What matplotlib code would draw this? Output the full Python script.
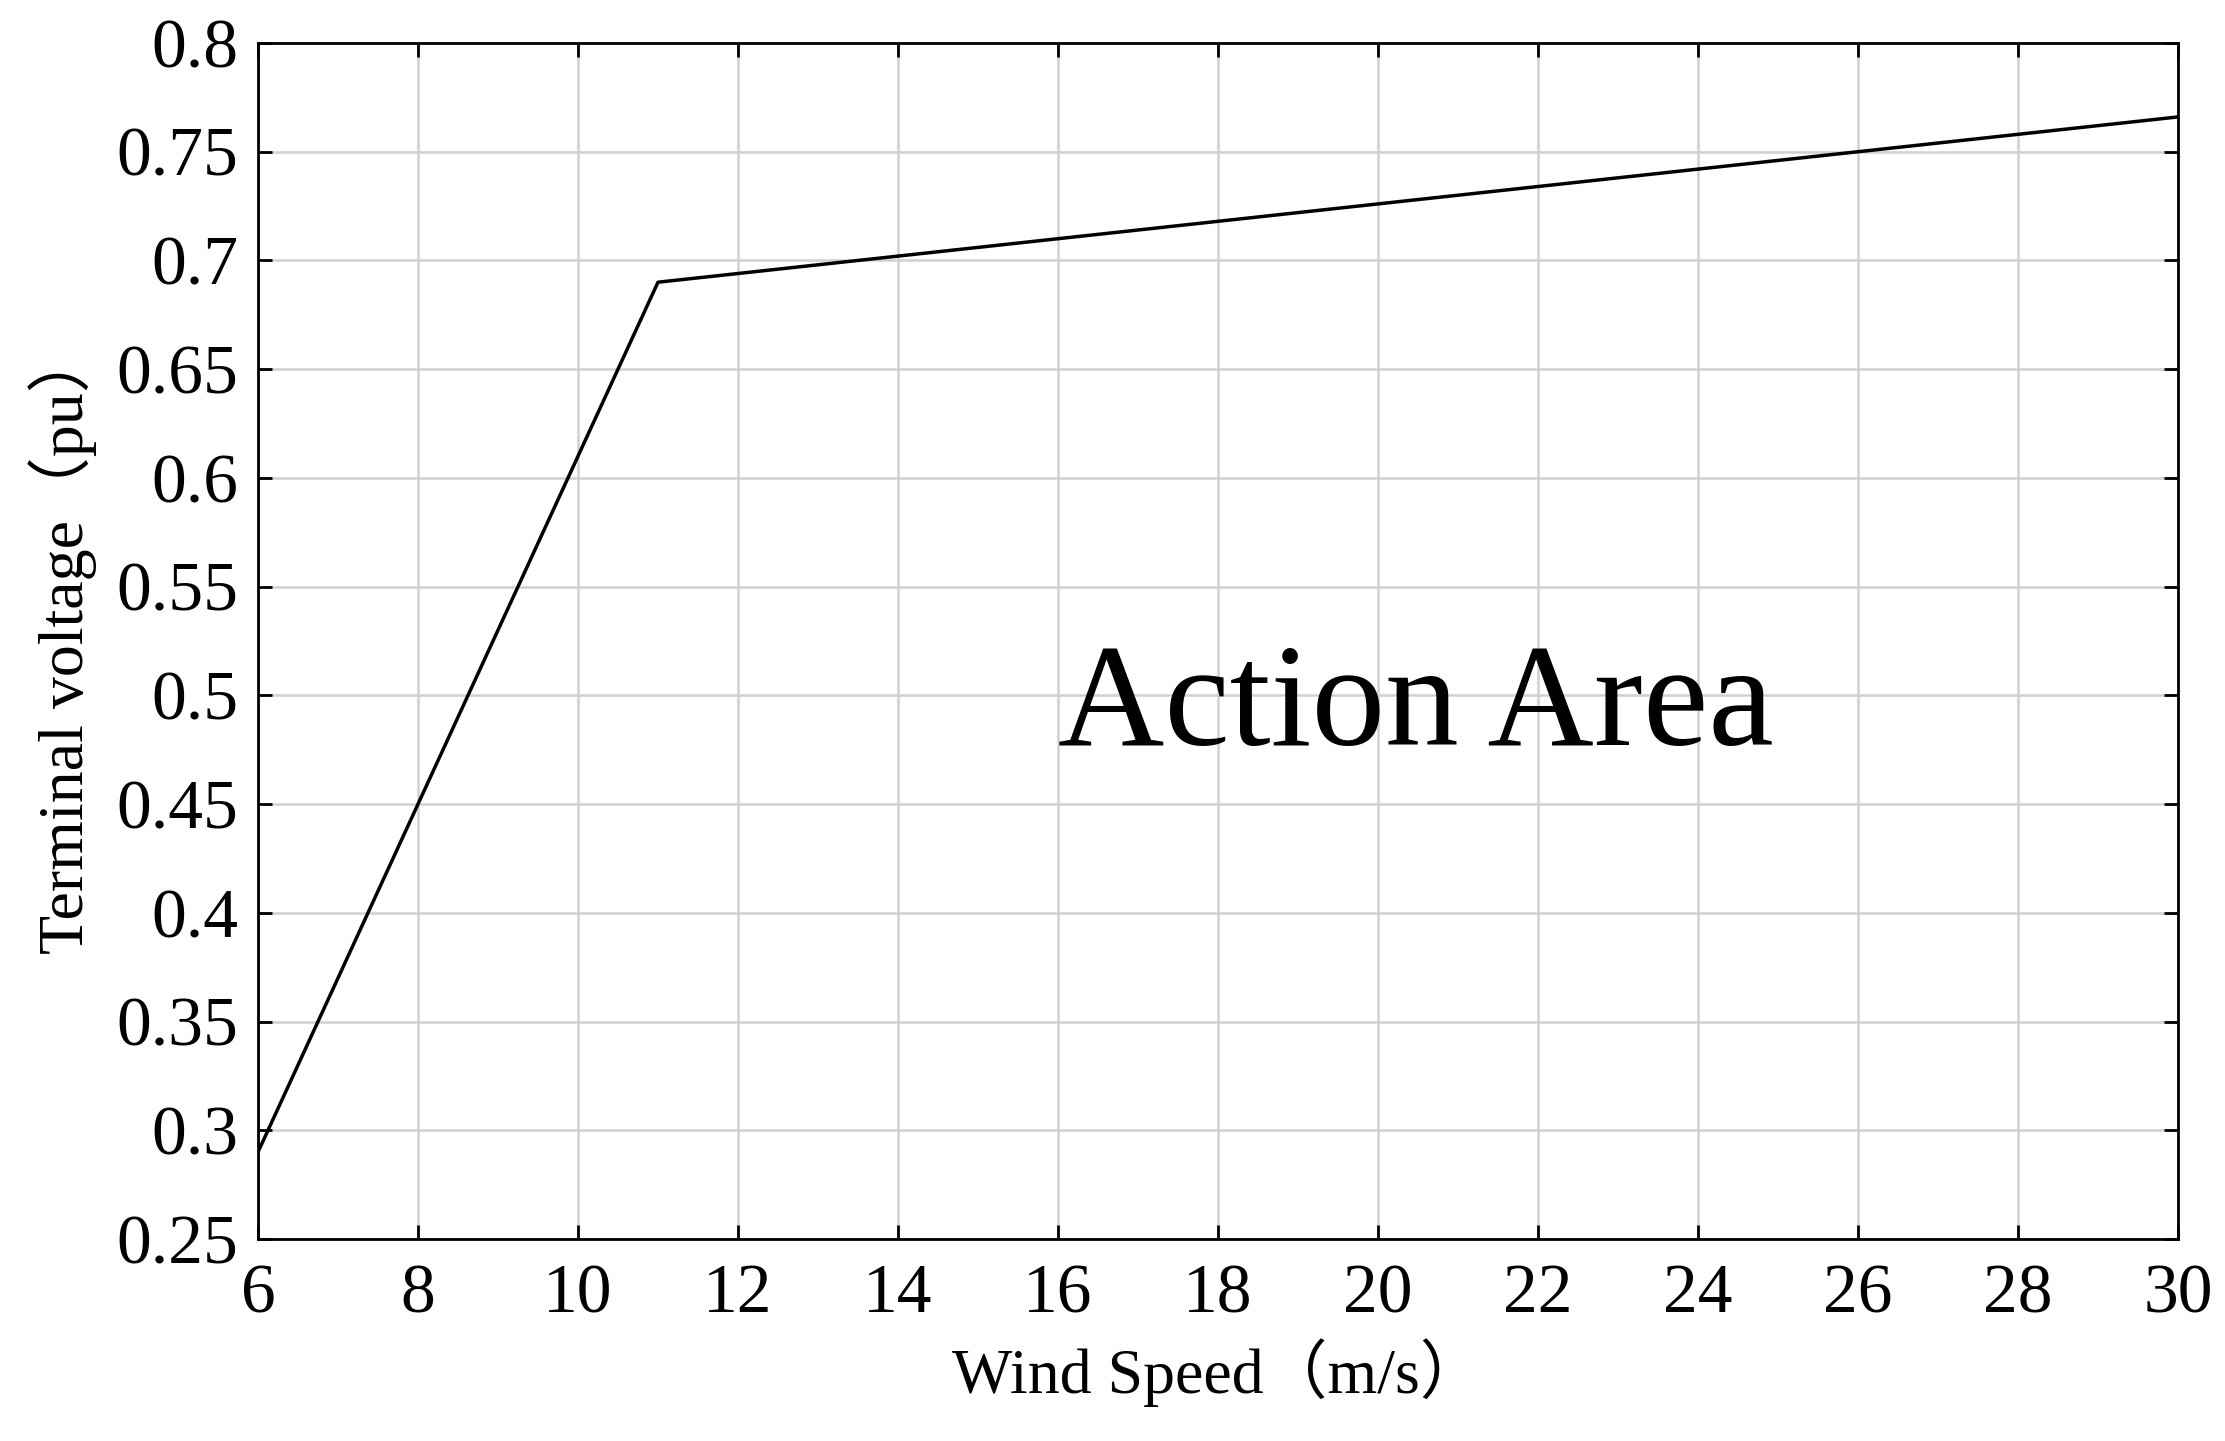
import matplotlib
matplotlib.use("Agg")
import matplotlib.pyplot as plt

wind_speed = [6, 11, 30]
voltage = [0.29, 0.69, 0.766]
xticks = list(range(6, 31, 2))
yticks = [0.25, 0.3, 0.35, 0.4, 0.45, 0.5, 0.55, 0.6, 0.65, 0.7, 0.75, 0.8]
ytick_labels = ["0.25", "0.3", "0.35", "0.4", "0.45", "0.5", "0.55", "0.6", "0.65", "0.7", "0.75", "0.8"]

fam = ["Liberation Serif", "Noto Sans CJK SC"]
plt.rcParams['font.family'] = fam
fig = plt.figure(figsize=(22.25, 14.41), dpi=100)
ax = fig.add_axes([258/2225, 1-1239/1441, (2178-258)/2225, (1239-43)/1441])
ax.plot(wind_speed, voltage, color="black", lw=2.5)
ax.set_xlim(6, 30)
ax.set_ylim(0.25, 0.8)
ax.set_xticks(xticks)
ax.set_yticks(yticks)
ax.set_yticklabels(ytick_labels)
ax.grid(True, color="#d0d0d0", lw=1.8)
ax.tick_params(direction="in", labelsize=50, length=10, width=2, top=True, right=True)
ax.tick_params(axis="x", pad=18)
ax.tick_params(axis="y", pad=14)
for s in ax.spines.values():
    s.set_linewidth(2)
ax.set_xlabel("Wind Speed（m/s）", fontsize=46, family=fam, labelpad=8)
ax.set_ylabel("Terminal voltage（pu）", fontsize=46, family=fam, labelpad=14)
ax.text(16.0, 0.477, "Action Area", fontsize=106, family=fam)
fig.savefig("out.png", dpi=100)
